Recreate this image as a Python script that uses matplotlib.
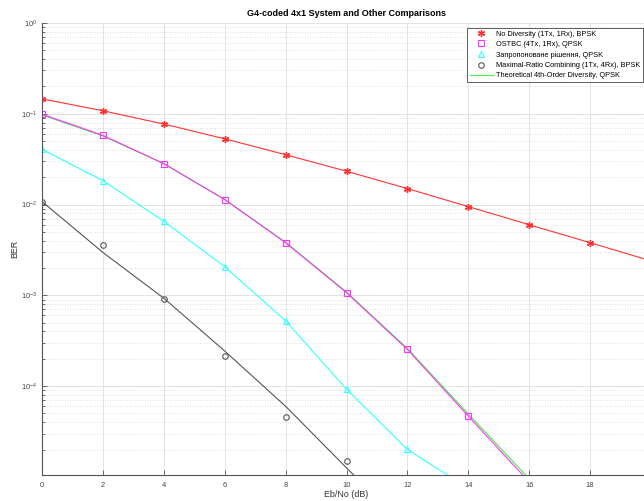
import matplotlib
matplotlib.use("Agg")
import matplotlib.pyplot as plt
from matplotlib.lines import Line2D
from matplotlib.ticker import LogLocator, NullFormatter

plt.rcParams['font.family'] = ['Liberation Sans', 'DejaVu Sans']

# data (Eb/No in dB, BER)
ebno = [0, 2, 4, 6, 8, 10, 12, 14, 16, 18, 20]
ber_no_div = [0.146, 0.108, 0.0771, 0.053, 0.0354, 0.0233, 0.0150, 0.0095, 0.0060, 0.0038, 0.0024]

ebno_ostbc = [0, 2, 4, 6, 8, 10, 12, 14, 16]
ber_ostbc = [0.099, 0.0578, 0.0283, 0.01135, 0.0038, 0.00107, 2.54e-4, 4.67e-5, 8.8e-6]
ber_theory4 = [0.097, 0.057, 0.0282, 0.0114, 0.00385, 0.00109, 2.6e-4, 4.94e-5, 9.55e-6]

ebno_prop = [0, 2, 4, 6, 8, 10, 12, 14]
ber_prop = [0.0405, 0.0184, 0.00654, 0.00207, 5.25e-4, 9.27e-5, 2.01e-5, 7.5e-6]

ebno_mrc = [0, 2, 4, 6, 8, 10]
ber_mrc = [0.0107, 0.00359, 9.2e-4, 2.15e-4, 4.54e-5, 1.51e-5]
ebno_mrc_line = [0, 2, 4, 6, 8, 10, 12]
ber_mrc_line = [0.0108, 0.00297, 9.3e-4, 2.44e-4, 6.0e-5, 1.26e-5, 2.7e-6]

xticks = [0, 2, 4, 6, 8, 10, 12, 14, 16, 18]

labels = ['No Diversity (1Tx, 1Rx), BPSK',
          'OSTBC (4Tx, 1Rx), QPSK',
          'Запропоноване рішення, QPSK',
          'Maximal-Ratio Combining (1Tx, 4Rx), BPSK',
          'Theoretical 4th-Order Diversity, QPSK']

red = '#ff3333'
mag = '#ff33ff'
cyan = '#33ffff'
gray = '#555555'
green = '#44ee44'
asterisk = (6, 2, 0)

fig = plt.figure(figsize=(6.44, 5.01), dpi=100)
ax = fig.add_axes([42 / 644, 1 - 475 / 501, 609 / 644, 452 / 501])

lw = 0.8
# lines
ax.semilogy(ebno, ber_no_div, color=red, lw=lw)
ax.semilogy(ebno_ostbc, ber_theory4, color=green, lw=lw)
ax.semilogy(ebno_ostbc, ber_ostbc, color=mag, lw=lw)
ax.semilogy(ebno_prop, ber_prop, color=cyan, lw=lw)
ax.semilogy(ebno_mrc_line, ber_mrc_line, color=gray, lw=lw)

# markers
ax.semilogy(ebno, ber_no_div, marker=asterisk, color=red, ms=5, mew=1, ls='none')
ax.semilogy(ebno_ostbc, ber_ostbc, 's', mec=mag, mfc='none', ms=4, mew=0.8, ls='none')
ax.semilogy(ebno_prop[:-1], ber_prop[:-1], '^', mec=cyan, mfc='none', ms=4.5, mew=0.8, ls='none')
ax.semilogy(ebno_mrc, ber_mrc, 'o', mec=gray, mfc='none', ms=4, mew=0.8, ls='none')

ax.set_xlim(0, 20)
ax.set_ylim(1.05e-5, 1)
ax.set_xticks(xticks)
ax.yaxis.set_major_locator(LogLocator(base=10, numticks=10))
ax.yaxis.set_minor_locator(LogLocator(base=10, subs=range(2, 10), numticks=20))
ax.yaxis.set_minor_formatter(NullFormatter())

ax.grid(True, which='major', color='#e3e3e3', lw=0.7, ls='-')
ax.grid(True, which='minor', axis='y', color='#d6d6d6', lw=0.6, ls=(0, (1, 2)))
ax.set_axisbelow(True)

for s in ['top', 'right']:
    ax.spines[s].set_visible(False)
for s in ['left', 'bottom']:
    ax.spines[s].set_color(gray)
    ax.spines[s].set_linewidth(0.8)

ax.tick_params(which='both', direction='in', colors=gray, labelcolor='#444444',
               labelsize=5.4, width=0.6)
ax.tick_params(which='major', length=3.5)
ax.tick_params(which='minor', length=2)
ax.tick_params(axis='x', pad=5)

ax.set_title('G4-coded 4x1 System and Other Comparisons', fontsize=6.5, fontweight='bold', pad=5)
ax.set_xlabel('Eb/No (dB)', fontsize=6.4, color='#333333', labelpad=1)
ax.set_ylabel('BER', fontsize=6.4, color='#333333', labelpad=1)

handles = [
    Line2D([], [], marker=asterisk, color=red, ls='none', ms=5, mew=1),
    Line2D([], [], marker='s', mec=mag, mfc='none', ls='none', ms=4, mew=0.8),
    Line2D([], [], marker='^', mec=cyan, mfc='none', ls='none', ms=4.5, mew=0.8),
    Line2D([], [], marker='o', mec=gray, mfc='none', ls='none', ms=4, mew=0.8),
    Line2D([], [], color=green, lw=lw),
]
leg = fig.legend(handles, labels, loc='upper right', bbox_to_anchor=(643 / 644, 1 - 28 / 501),
                 fontsize=5.3, frameon=True, fancybox=False, framealpha=1,
                 edgecolor='#444444', handlelength=3.2, handletextpad=0.4,
                 labelspacing=0.42, borderpad=0.35, borderaxespad=0)
leg.get_frame().set_linewidth(0.6)

fig.savefig('out.png', dpi=100)
